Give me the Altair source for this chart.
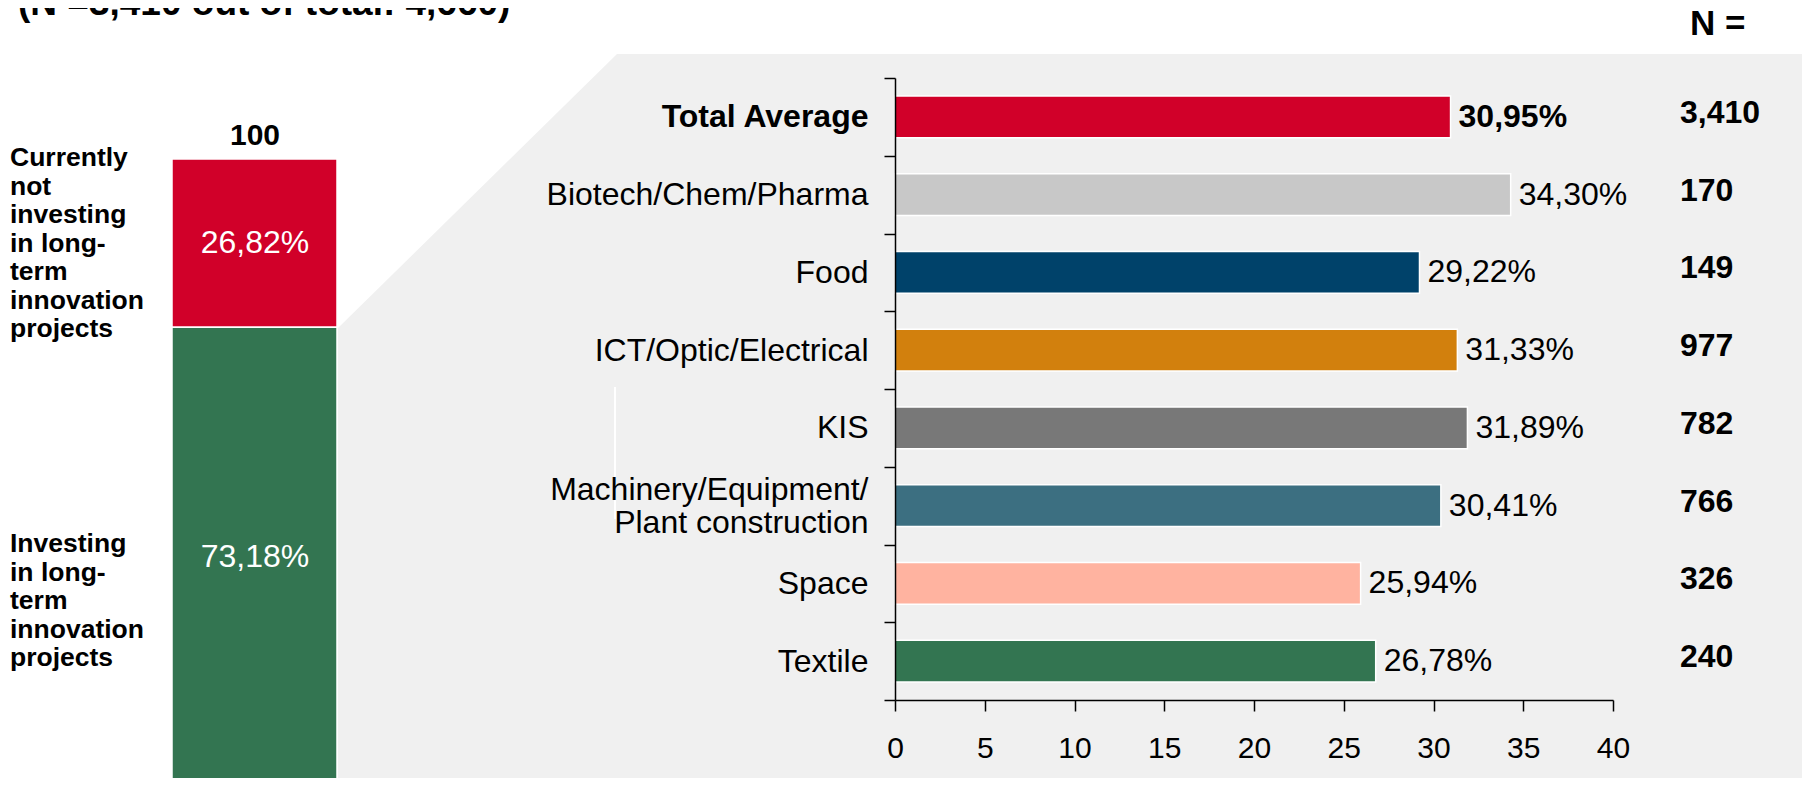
import altair as alt
import pandas as pd

# ---------------- data ----------------
categories = [
    "Total Average",
    "Biotech/Chem/Pharma",
    "Food",
    "ICT/Optic/Electrical",
    "KIS",
    "Machinery/Equipment/Plant construction",
    "Space",
    "Textile",
]
shares = [30.95, 34.30, 29.22, 31.33, 31.89, 30.41, 25.94, 26.78]
n_counts = [3410, 170, 149, 977, 782, 766, 326, 240]
bar_colors = ["#D10029", "#C8C8C8", "#00426A", "#D2800D", "#787878", "#3C6F81", "#FFB3A0", "#337551"]

split_labels = ["Currently not investing in long-term innovation projects",
                "Investing in long-term innovation projects"]
split_values = [26.82, 73.18]
split_colors = ["#D10029", "#337551"]
split_total = 100
label_lines_top = ["Currently", "not", "investing", "in long-", "term", "innovation", "projects"]
label_lines_bottom = ["Investing", "in long-", "term", "innovation", "projects"]

title_text = "(N =3,410 out of total: 4,660)"
n_header = "N ="
x_ticks = [0, 5, 10, 15, 20, 25, 30, 35, 40]

FONT = "Liberation Sans"

# ---------------- tables ----------------
df = pd.DataFrame({"cat": categories, "share": shares, "n": n_counts})
df["label"] = [f"{v:.2f}".replace(".", ",") + "%" for v in shares]
df["n_label"] = [f"{v:,}" for v in n_counts]

left_df = pd.DataFrame({"label": split_labels, "value": split_values})
left_df["y0"] = [split_values[1], 0]
left_df["y1"] = [split_total, split_values[1]]
left_df["mid"] = (left_df["y0"] + left_df["y1"]) / 2
left_df["pct"] = [f"{v:.2f}".replace(".", ",") + "%" for v in split_values]

one = pd.DataFrame({"a": [0]})

# ---------------- background panel ----------------
panel_path = "M-278,-24 L915,-24 L915,708 L-557,708 L-557,250 Z"
bg = alt.Chart(one).mark_point(
    shape=panel_path, size=4, filled=True, opacity=1, color="#F0F0F0", strokeWidth=0
).encode(x=alt.value(0), y=alt.value(0))

artifact = alt.Chart(one).mark_rule(color="white", strokeWidth=2).encode(
    x=alt.value(-280), y=alt.value(309), y2=alt.value(441)
)

# ---------------- left stacked bar ----------------
left_scale = alt.Scale(domain=[0, split_total], range=[708, 81], nice=False, zero=False)
left_bar = alt.Chart(left_df).mark_rect(stroke="white", strokeWidth=1.5).encode(
    x=alt.value(-723), x2=alt.value(-558),
    y=alt.Y("y0:Q", scale=left_scale, axis=None), y2="y1:Q",
    color=alt.Color("label:N", scale=alt.Scale(domain=split_labels, range=split_colors), legend=None),
)
left_text = alt.Chart(left_df).mark_text(
    color="white", fontSize=32, font=FONT, baseline="middle", align="center"
).encode(
    x=alt.value(-640),
    y=alt.Y("mid:Q", scale=left_scale, axis=None),
    text="pct:N",
)
left_layer = alt.layer(left_bar, left_text)

total_text = alt.Chart(pd.DataFrame({"t": [str(split_total)]})).mark_text(
    fontSize=30, fontWeight="bold", font=FONT, align="center", baseline="alphabetic", color="black"
).encode(x=alt.value(-640), y=alt.value(67), text="t:N")

lab_top = alt.Chart(pd.DataFrame({"t": [label_lines_top]})).mark_text(
    fontSize=26.5, fontWeight="bold", font=FONT, align="left", baseline="top", lineHeight=28.5, color="black"
).encode(x=alt.value(-885), y=alt.value(67), text="t")

lab_bottom = alt.Chart(pd.DataFrame({"t": [label_lines_bottom]})).mark_text(
    fontSize=26.5, fontWeight="bold", font=FONT, align="left", baseline="top", lineHeight=28.5, color="black"
).encode(x=alt.value(-885), y=alt.value(453), text="t")

title = alt.Chart(pd.DataFrame({"t": [title_text]})).mark_text(
    fontSize=37, fontWeight="bold", font=FONT, align="left", baseline="alphabetic", color="black"
).encode(x=alt.value(-877), y=alt.value(-63), text="t:N")

n_head = alt.Chart(pd.DataFrame({"t": [n_header]})).mark_text(
    fontSize=35, fontWeight="bold", font=FONT, align="left", baseline="alphabetic", color="black"
).encode(x=alt.value(795), y=alt.value(-43), text="t:N")

# ---------------- main bar chart ----------------
MULTI = "Machinery/Equipment/Plant construction"
y_axis = alt.Axis(
    title=None,
    labelFontSize=32,
    labelFont=FONT,
    labelColor="black",
    labelPadding=16,
    labelLimit=0,
    labelOverlap=False,
    labelBaseline="middle",
    labelLineHeight=33,
    labelExpr=f"datum.value == '{MULTI}' ? ['Machinery/Equipment/', 'Plant construction'] : datum.label",
    labelOffset={"condition": {"test": f"datum.value == '{MULTI}'", "value": -16.5}, "value": 0},
    labelFontWeight={"condition": {"test": "datum.value == 'Total Average'", "value": "bold"}, "value": "normal"},
    tickSize=11,
    tickColor="black",
    tickWidth=1.5,
    tickBand="extent",
    domainColor="black",
    domainWidth=1.5,
    grid=False,
    zindex=2,
)
x_axis = alt.Axis(
    title=None,
    values=x_ticks,
    labelFontSize=30,
    labelFont=FONT,
    labelColor="black",
    labelPadding=46,
    labelBaseline="alphabetic",
    labelFlush=False,
    labelOverlap=False,
    tickSize=11,
    tickColor="black",
    tickWidth=1.5,
    domainColor="black",
    domainWidth=1.5,
    grid=False,
    zindex=2,
)

y_enc = alt.Y("cat:N", sort=categories,
              scale=alt.Scale(domain=categories, paddingInner=0, paddingOuter=0),
              axis=y_axis)
x_enc = alt.X("share:Q", scale=alt.Scale(domain=[0, 40], nice=False, zero=True), axis=x_axis)

bars = alt.Chart(df).mark_bar(stroke="white", strokeWidth=1.5, height={"band": 0.536}).encode(
    x=x_enc,
    y=y_enc,
    color=alt.Color("cat:N", scale=alt.Scale(domain=categories, range=bar_colors), legend=None),
)
val_bold = alt.Chart(df).transform_filter("datum.cat == 'Total Average'").mark_text(
    align="left", baseline="middle", dx=8, fontSize=32, fontWeight="bold", font=FONT, color="black"
).encode(x="share:Q", y=alt.Y("cat:N", sort=categories), text="label:N")
val_norm = alt.Chart(df).transform_filter("datum.cat != 'Total Average'").mark_text(
    align="left", baseline="middle", dx=8, fontSize=32, font=FONT, color="black"
).encode(x="share:Q", y=alt.Y("cat:N", sort=categories), text="label:N")
n_vals = alt.Chart(df).mark_text(
    align="left", baseline="middle", dy=-4, fontSize=32, fontWeight="bold", font=FONT, color="black"
).encode(x=alt.value(785), y=alt.Y("cat:N", sort=categories), text="n_label:N")

main = alt.layer(bars, val_bold, val_norm, n_vals)

chart = alt.layer(
    bg, artifact, left_layer, total_text, lab_top, lab_bottom, title, n_head, main
).resolve_scale(
    x="independent", y="independent", color="independent"
).properties(
    width=718,
    height=622,
    padding={"left": 887, "top": 70, "right": 189, "bottom": 78},
    autosize=alt.AutoSizeParams(type="none"),
    background="white",
).configure_view(stroke=None).configure(font=FONT)

chart.save("out.html", embed_options={"renderer": "svg", "actions": False})
